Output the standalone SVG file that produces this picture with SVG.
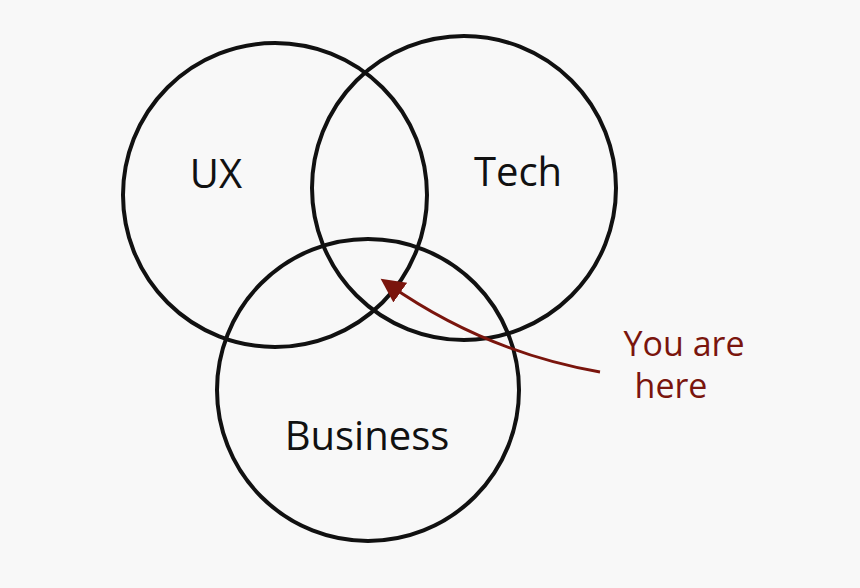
<svg xmlns="http://www.w3.org/2000/svg" width="860" height="588" viewBox="0 0 860 588">
<defs>
<style>
.c{fill:none;stroke:#111;stroke-width:4}
.t{font-family:"Comic Sans MS","Open Sans","Liberation Sans",sans-serif;fill:#111;font-size:40px}
.r{font-family:"Comic Sans MS","Open Sans","Liberation Sans",sans-serif;fill:#7a150d;font-size:34px}
</style>
<marker id="ah" markerWidth="10" markerHeight="10" refX="5" refY="4" orient="auto" markerUnits="strokeWidth">
<path d="M0,0 L8,4 L0,8 Z" fill="#7a150d"/>
</marker>
</defs>
<rect width="860" height="588" fill="#f8f8f8"/>
<g id="ux"><circle class="c" cx="275" cy="195" r="152"/><text class="t" x="216" y="188" text-anchor="middle">UX</text></g>
<g id="tech"><circle class="c" cx="464" cy="188" r="152"/><text class="t" x="518" y="186" text-anchor="middle">Tech</text></g>
<g id="business"><circle class="c" cx="368" cy="390" r="151"/><text class="t" x="367" y="450" text-anchor="middle">Business</text></g>
<g id="label"><text class="r" x="684" y="356" text-anchor="middle">You are</text><text class="r" x="671" y="398" text-anchor="middle">here</text></g>
<g id="connectors"><path d="M600,372 Q485,352 388,284" fill="none" stroke="#7a150d" stroke-width="3" marker-end="url(#ah)"/></g>
</svg>
